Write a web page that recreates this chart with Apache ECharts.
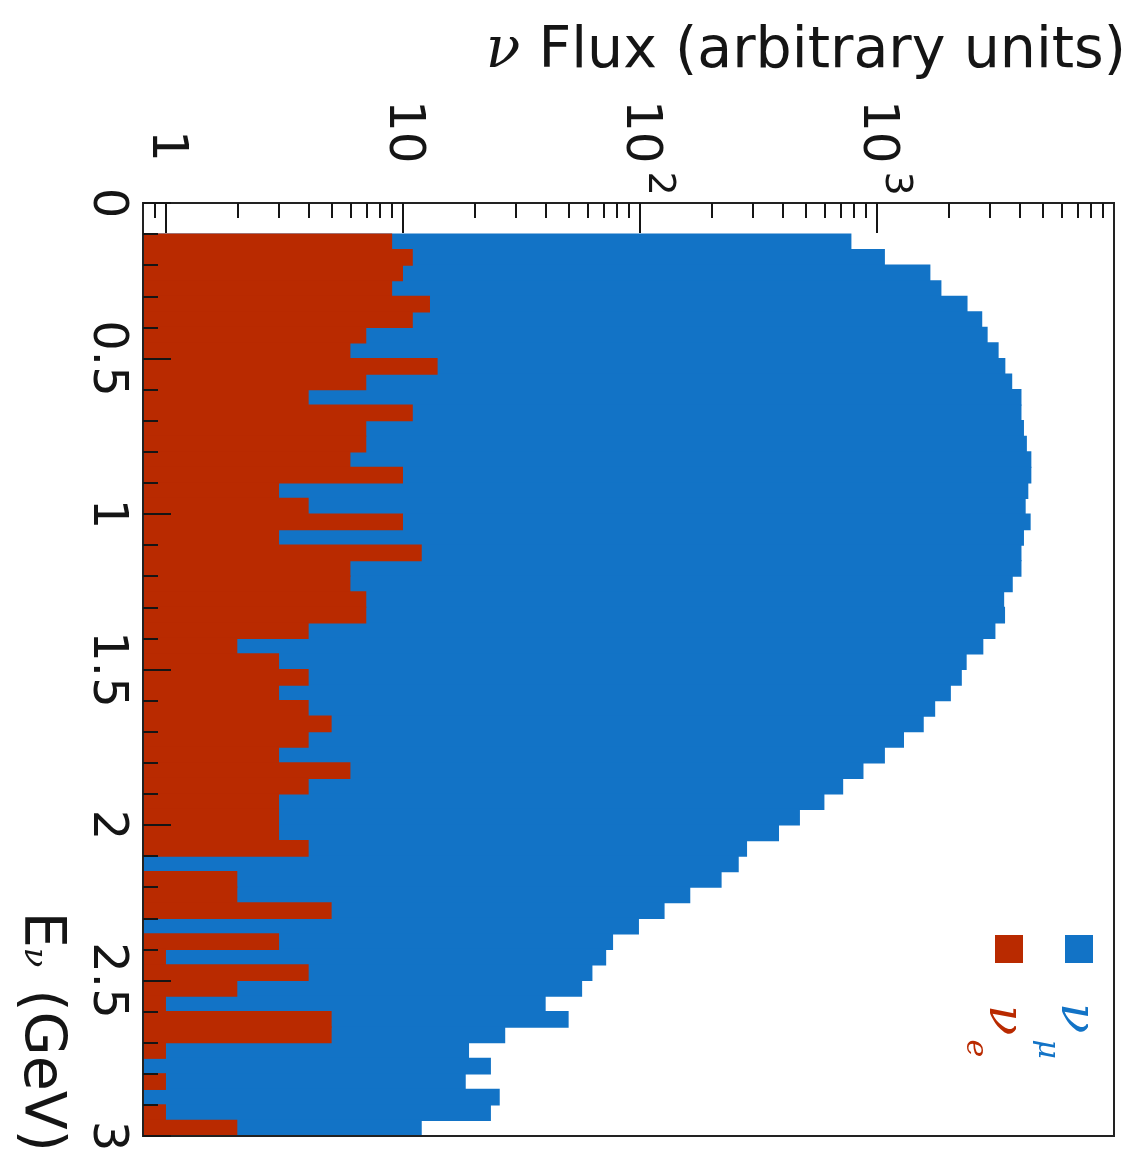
<!DOCTYPE html>
<html>
<head>
<meta charset="utf-8">
<script src="https://cdn.jsdelivr.net/npm/echarts@6/dist/echarts.min.js"></script>
<style>
  html, body { margin: 0; padding: 0; background: #fff; }
  #chart { width: 1136px; height: 1158px; }
</style>
</head>
<body>
<div id="chart"></div>
<script>
// energy bins (low edge, GeV), 0.05 GeV wide
const energyBins = [
  '0.00', '0.05', '0.10', '0.15', '0.20', '0.25', '0.30', '0.35', '0.40', '0.45',
  '0.50', '0.55', '0.60', '0.65', '0.70', '0.75', '0.80', '0.85', '0.90', '0.95',
  '1.00', '1.05', '1.10', '1.15', '1.20', '1.25', '1.30', '1.35', '1.40', '1.45',
  '1.50', '1.55', '1.60', '1.65', '1.70', '1.75', '1.80', '1.85', '1.90', '1.95',
  '2.00', '2.05', '2.10', '2.15', '2.20', '2.25', '2.30', '2.35', '2.40', '2.45',
  '2.50', '2.55', '2.60', '2.65', '2.70', '2.75', '2.80', '2.85', '2.90', '2.95'
]
// nu_mu flux
const numuFlux = [
  '-', '-', 780, 1080, 1680, 1870, 2410, 2780, 2930, 3260,
  3480, 3720, 4070, 4070, 4170, 4290, 4480, 4480, 4350, 4240,
  4450, 4170, 4070, 4070, 3740, 3440, 3470, 3160, 2810, 2390,
  2280, 2050, 1760, 1575, 1300, 1080, 877, 720, 600, 473,
  386, 283, 261, 221, 163, 127, 99, 77, 72, 63,
  57, 40, 50, 27, 19, 23.5, 18.4, 25.6, 23.5, 12
]
// nu_e flux
const nueFlux = [
  '-', '-', 9, 11, 10, 9, 13, 11, 7, 6,
  14, 7, 4, 11, 7, 7, 6, 10, 3, 4,
  10, 3, 12, 6, 6, 7, 7, 4, 2, 3,
  4, 3, 4, 5, 4, 3, 6, 4, 3, 3,
  3, 4, '-', 2, 2, 5, '-', 3, 1, 4,
  2, 1, 5, 5, 1, '-', 1, '-', 1, 2
]

const fluxMajorTicks = [1, 10, 100, 1000]
const fluxMinorTicks = [0.9, 2, 3, 4, 5, 6, 7, 8, 9, 20, 30, 40, 50, 60, 70, 80, 90,
  200, 300, 400, 500, 600, 700, 800, 900, 2000, 3000, 4000, 5000, 6000, 7000, 8000, 9000]
const energyMajorTicks = [0, 0.5, 1, 1.5, 2, 2.5, 3]
const energyMinorTicks = [0.1, 0.2, 0.3, 0.4, 0.6, 0.7, 0.8, 0.9, 1.1, 1.2, 1.3, 1.4,
  1.6, 1.7, 1.8, 1.9, 2.1, 2.2, 2.3, 2.4, 2.6, 2.7, 2.8, 2.9]

const BLUE = '#1273c6'
const RED = '#b92a00'
const INK = '#151515'
const FONT = 'DejaVu Sans'
const GREEK = 'DejaVu Serif'
const FLUX_MIN = 0.8
const FLUX_MAX = 10000

let chart = echarts.init(document.getElementById('chart'))

// decoration axes for the ticks work in log10 space, same pixels as the log axis
let logMin = Math.log10(FLUX_MIN)
let logMax = Math.log10(FLUX_MAX)
let tickStyle = { color: INK, width: 2 }
// the energy axes must stay on the left edge, not jump to x = 1
let noLineY = { show: false, onZero: false }

let option = {
  animation: false,
  backgroundColor: '#fff',
  title: {
    text: '{n|ν} Flux (arbitrary units)',
    right: 10,
    top: 24,
    padding: 0,
    textStyle: {
      fontFamily: FONT,
      fontSize: 57,
      fontWeight: 'normal',
      color: INK,
      rich: {
        n: { fontFamily: GREEK, fontStyle: 'italic', fontSize: 57, color: INK }
      }
    }
  },
  grid: {
    left: 143,
    top: 203,
    width: 971,
    height: 933,
    show: true,
    z: 10,
    borderColor: '#222',
    borderWidth: 2,
    backgroundColor: 'transparent',
    outerBoundsMode: 'none'
  },
  xAxis: [{
    type: 'log',
    min: FLUX_MIN,
    max: FLUX_MAX,
    startValue: FLUX_MIN,
    show: false
  }, {
    type: 'value',
    position: 'top',
    min: logMin,
    max: logMax,
    z: 10,
    axisLine: { show: false },
    splitLine: { show: false },
    axisTick: {
      inside: true,
      length: 30,
      customValues: fluxMajorTicks.map(v => Math.log10(v)),
      lineStyle: tickStyle
    },
    axisLabel: {
      customValues: fluxMajorTicks.map(v => Math.log10(v)),
      rotate: -90,
      align: 'left',
      verticalAlign: 'middle',
      margin: 103,
      formatter: function (v) {
        let p = Math.round(v)
        if (p === 0) return '{one|1}'
        if (p === 1) return '{b|10}'
        return '{b|10}{s|' + p + '}'
      },
      rich: {
        one: { fontFamily: FONT, fontSize: 50, color: INK, lineHeight: 50, padding: [0, 0, 0, 30] },
        b: { fontFamily: FONT, fontSize: 50, color: INK, lineHeight: 76, verticalAlign: 'middle' },
        s: { fontFamily: FONT, fontSize: 38, color: INK, lineHeight: 38, verticalAlign: 'top', padding: [0, 0, 0, 8] }
      }
    }
  }, {
    type: 'value',
    position: 'top',
    min: logMin,
    max: logMax,
    z: 10,
    axisLine: { show: false },
    splitLine: { show: false },
    axisLabel: { show: false },
    axisTick: {
      inside: true,
      length: 15,
      customValues: fluxMinorTicks.map(v => Math.log10(v)),
      lineStyle: tickStyle
    }
  }],
  yAxis: [{
    type: 'category',
    data: energyBins,
    inverse: true,
    show: false,
    axisLine: noLineY
  }, {
    type: 'value',
    position: 'left',
    min: 0,
    max: 3,
    inverse: true,
    z: 10,
    axisLine: noLineY,
    splitLine: { show: false },
    axisTick: {
      inside: true,
      length: 28,
      customValues: energyMajorTicks,
      lineStyle: tickStyle
    },
    axisLabel: {
      customValues: energyMajorTicks,
      rotate: -90,
      align: 'center',
      verticalAlign: 'top',
      margin: 13,
      fontFamily: FONT,
      fontSize: 48,
      color: INK
    }
  }, {
    type: 'value',
    position: 'left',
    min: 0,
    max: 3,
    inverse: true,
    z: 10,
    axisLine: noLineY,
    splitLine: { show: false },
    axisLabel: { show: false },
    axisTick: {
      inside: true,
      length: 15,
      customValues: energyMinorTicks,
      lineStyle: tickStyle
    }
  }],
  series: [{
    name: 'ν_μ',
    type: 'bar',
    xAxisIndex: 0,
    yAxisIndex: 0,
    data: numuFlux,
    barWidth: '108%',
    barGap: '-100%',
    z: 2,
    itemStyle: { color: BLUE }
  }, {
    name: 'ν_e',
    type: 'bar',
    xAxisIndex: 0,
    yAxisIndex: 0,
    data: nueFlux,
    barWidth: '108%',
    barGap: '-100%',
    z: 3,
    itemStyle: { color: RED }
  }],
  graphic: [{
    // E_nu (GeV), rotated like the rest of the figure
    type: 'text',
    x: 68,
    y: 1152,
    rotation: -Math.PI / 2,
    style: {
      text: '{e|E}{s|ν}{e| (GeV)}',
      align: 'right',
      verticalAlign: 'top',
      rich: {
        e: { fontFamily: FONT, fontSize: 57, lineHeight: 57, fill: INK, verticalAlign: 'bottom' },
        s: { fontFamily: GREEK, fontStyle: 'italic', fontSize: 32, lineHeight: 32, fill: INK, verticalAlign: 'bottom', padding: [0, 4, 6, 0] }
      }
    }
  }, {
    type: 'rect',
    shape: { x: 1065, y: 935, width: 28, height: 28 },
    style: { fill: BLUE }
  }, {
    type: 'rect',
    shape: { x: 995, y: 935, width: 28, height: 28 },
    style: { fill: RED }
  }, {
    type: 'text',
    x: 1100,
    y: 1003,
    rotation: -Math.PI / 2,
    style: {
      text: '{n|ν}{s|μ}',
      align: 'left',
      verticalAlign: 'top',
      rich: {
        n: { fontFamily: GREEK, fontStyle: 'italic', fontSize: 50, lineHeight: 50, fill: BLUE, verticalAlign: 'top' },
        s: { fontFamily: GREEK, fontStyle: 'italic', fontSize: 30, lineHeight: 30, fill: BLUE, verticalAlign: 'top', padding: [38, 0, 0, 6] }
      }
    }
  }, {
    type: 'text',
    x: 1028,
    y: 1005,
    rotation: -Math.PI / 2,
    style: {
      text: '{n|ν}{s|e}',
      align: 'left',
      verticalAlign: 'top',
      rich: {
        n: { fontFamily: GREEK, fontStyle: 'italic', fontSize: 50, lineHeight: 50, fill: RED, verticalAlign: 'top' },
        s: { fontFamily: GREEK, fontStyle: 'italic', fontSize: 30, lineHeight: 30, fill: RED, verticalAlign: 'top', padding: [38, 0, 0, 4] }
      }
    }
  }]
}

chart.setOption(option)
</script>
</body>
</html>
